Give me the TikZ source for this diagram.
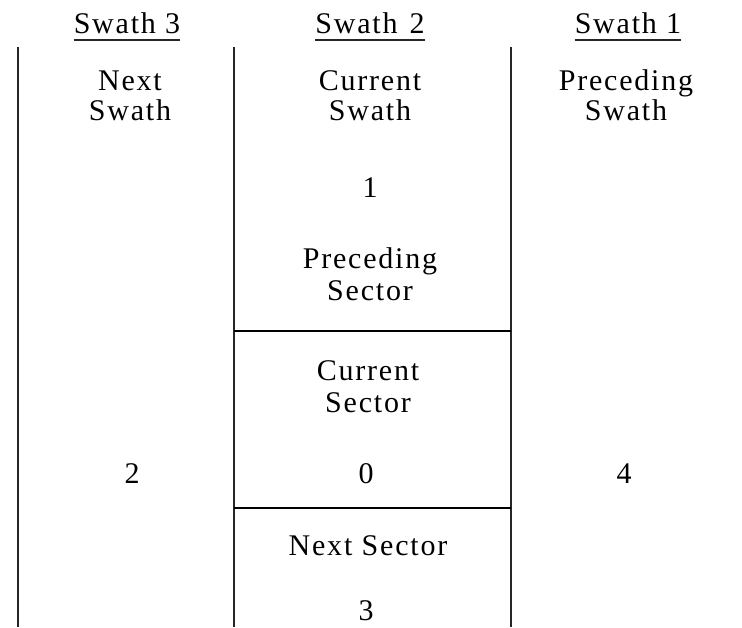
\documentclass[tikz,border=0pt]{standalone}
\usepackage{fontspec}
\setmainfont{Liberation Serif}[LetterSpace=6]
\begin{document}
\begin{tikzpicture}[x=1pt,y=-1pt,
  txt/.style={font=\fontsize{30}{32}\selectfont, inner sep=0pt, anchor=base},
  vline/.style={line width=1.5pt, draw=black!85},
  hline/.style={line width=2.4pt, draw=black},
  uline/.style={line width=1.3pt, draw=black!85}]
\useasboundingbox (0,0) rectangle (742,627);
\fill[white] (0,0) rectangle (742,627);

% headers
\node[txt] (h3) at (127,33) {Swath 3};
\node[txt] (h2) at (370,33) {Swath\hspace{0.4em}2};
\node[txt] (h1) at (628,33) {Swath 1};
\draw[uline] ([yshift=-7pt]h3.base west) -- ([yshift=-7pt]h3.base east);
\draw[uline] ([yshift=-7pt]h2.base west) -- ([yshift=-7pt]h2.base east);
\draw[uline] ([yshift=-7pt]h1.base west) -- ([yshift=-7pt]h1.base east);

% column lines
\coordinate (l1t) at (18,47);  \coordinate (l1b) at (18,627);
\coordinate (l2t) at (234,47); \coordinate (l2b) at (234,627);
\coordinate (l3t) at (511,47); \coordinate (l3b) at (511,627);
\draw[vline] (l1t) -- (l1b);
\draw[vline] (l2t) -- (l2b);
\draw[vline] (l3t) -- (l3b);

% sector lines
\coordinate (s1a) at (234,331); \coordinate (s1b) at (511,331);
\coordinate (s2a) at (234,508); \coordinate (s2b) at (511,508);
\draw[hline] (s1a) -- (s1b);
\draw[hline] (s2a) -- (s2b);

% left column
\node[txt] (ns1) at (130,90) {Next};
\node[txt] (ns2) at (130,120) {Swath};
\node[txt] (n2) at (132,483) {2};

% middle column
\node[txt] (cs1) at (370,90) {Current};
\node[txt] (cs2) at (370,120) {Swath};
\node[txt] (n1) at (370,197) {1};
\node[txt] (ps1) at (370,268) {Preceding};
\node[txt] (ps2) at (370,300) {Sector};
\node[txt] (cc1) at (368,380) {Current};
\node[txt] (cc2) at (368,412) {Sector};
\node[txt] (n0) at (366,483) {0};
\node[txt] (nx) at (368,555) {Next Sector};
\node[txt] (n3) at (366,620) {3};

% right column
\node[txt] (pw1) at (626,90) {Preceding};
\node[txt] (pw2) at (626,120) {Swath};
\node[txt] (n4) at (624,483) {4};
\end{tikzpicture}
\end{document}
